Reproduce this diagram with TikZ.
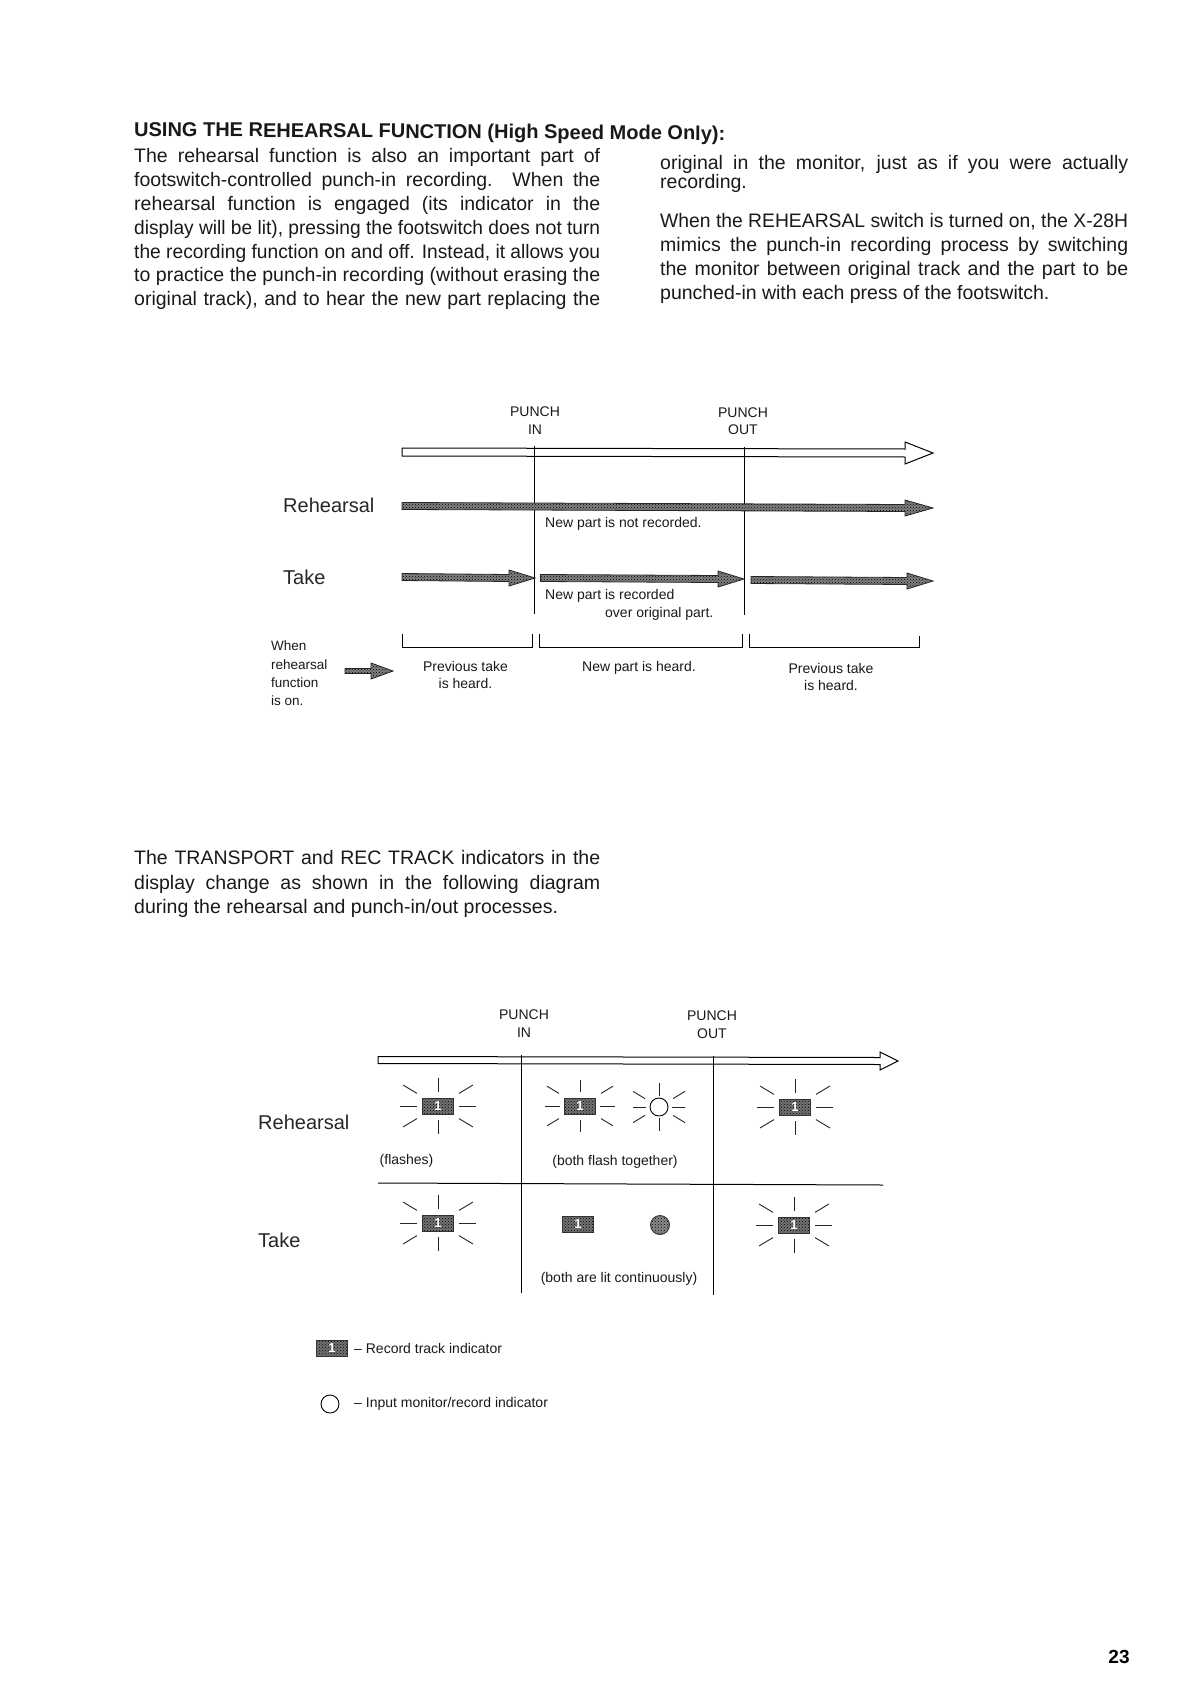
\documentclass[tikz,border=0pt]{standalone}
\usepackage{fontspec}
\usepackage{graphicx}
\setmainfont{Liberation Sans}
\usetikzlibrary{calc,patterns}

\newcommand{\jline}[1]{\makebox[468pt][s]{#1}\\}
\newcommand{\tline}[1]{\resizebox{468pt}{\height}{#1}\\}
\newcommand{\jlinel}[1]{\makebox[466pt][s]{#1}\\}
\newcommand{\tlinel}[1]{\resizebox{466pt}{\height}{#1}\\}

% body half, head half, head length, style, from, to
\newcommand{\fatarrow}[6]{%
\draw[#4] (#5) ++(0,-#1) -- ($(#6)+(-#3,-#1)$) -- ($(#6)+(-#3,-#2)$) -- (#6) -- ($(#6)+(-#3,#2)$) -- ($(#6)+(-#3,#1)$) -- ($(#5)+(0,#1)$) -- cycle;
}

% rays: node, inner and outer reach on the horizontal, vertical and slanted lines
\newcommand{\flashrays}[7]{%
\foreach \xa/\ya/\xb/\yb in {-#2/0/-#3/0,#2/0/#3/0,0/-#4/0/-#5,0/#4/0/#5}{
\draw[rayline] ($(#1)+(\xa,\ya)$) -- ($(#1)+(\xb,\yb)$);
}
\foreach \sx/\sy in {-1/-1,1/-1,-1/1,1/1}{
\draw[rayline] ($(#1)+({\sx*#6},{\sy*#6*.6})$) -- ($(#1)+({\sx*#7},{\sy*#7*.6})$);
}
}
\newcommand{\boxrays}[1]{\flashrays{#1}{21}{38}{14}{28}{21}{35}}
\newcommand{\lamprays}[1]{\flashrays{#1}{13}{26}{11}{24}{14}{26}}

\tikzset{
  bodytext/.style={font=\fontsize{19.5}{23.8}\selectfont,align=left,inner sep=0pt,anchor=north west,text=black!90},
  smalltext/.style={font=\fontsize{14}{17.5}\selectfont,inner sep=0pt,text=black!90},
  rowlabel/.style={font=\fontsize{20}{24}\selectfont,inner sep=0pt,anchor=west,text=black!85},
  openarrow/.style={draw=black,line width=1pt,fill=white},
  greyarrow/.style={draw=black!85,line width=.8pt,preaction={fill=black!50},pattern=crosshatch dots,pattern color=black},
  rule/.style={draw=black,line width=1pt},
  rayline/.style={draw=black!85,line width=.9pt},
  trackbox/.style={draw=black!80,preaction={fill=black!55},pattern=crosshatch dots,pattern color=black,minimum width=31pt,minimum height=16pt,inner sep=0pt,text=white,font=\bfseries\fontsize{13}{13}\selectfont},
  lampoff/.style={circle,draw=black,line width=.9pt,fill=white,minimum size=18pt,inner sep=0pt},
  lampon/.style={circle,draw=black!80,line width=.9pt,preaction={fill=black!45},pattern=crosshatch dots,pattern color=black,minimum size=19pt,inner sep=0pt},
}

\begin{document}
\begin{tikzpicture}[x=1pt,y=-1pt]
\useasboundingbox (0,0) rectangle (1191,1685);

% text on top of the page
\node[font=\bfseries\fontsize{20}{23}\selectfont,inner sep=0pt,anchor=west,rotate=-.4,text=black!90] (heading) at (134,131) {USING THE REHEARSAL FUNCTION (High Speed Mode Only):};
\node[bodytext] (leftcol) at (134,148.5) {%
\jlinel{The rehearsal function is also an important part of}
\jlinel{footswitch-controlled punch-in recording. When the}
\jlinel{rehearsal function is engaged (its indicator in the}
\tlinel{display will be lit), pressing the footswitch does not turn}
\tlinel{the recording function on and off. Instead, it allows you}
\tlinel{to practice the punch-in recording (without erasing the}
\jlinel{original track), and to hear the new part replacing the}};
\node[bodytext,font=\fontsize{19.5}{19.5}\selectfont] (rightcola) at (660,155) {%
\jline{original in the monitor, just as if you were actually}
recording.};
\node[bodytext,font=\fontsize{19.5}{24}\selectfont] (rightcolb) at (660,213) {%
\tline{When the REHEARSAL switch is turned on, the X-28H}
\jline{mimics the punch-in recording process by switching}
\jline{the monitor between original track and the part to be}
punched-in with each press of the footswitch.};
\node[bodytext,font=\fontsize{19.5}{24.7}\selectfont] (middletext) at (134,850) {%
\jlinel{The TRANSPORT and REC TRACK indicators in the}
\jlinel{display change as shown in the following diagram}
during the rehearsal and punch-in/out processes.};
\node[font=\bfseries\fontsize{19}{23}\selectfont,inner sep=0pt] (pagenum) at (1119,1657) {23};

% first diagram
\coordinate (topa) at (402,452);
\coordinate (topb) at (933,453);
\coordinate (rehb) at (933,508);
\coordinate (reha) at (402,506);
\coordinate (ina) at (534.5,446);
\coordinate (inb) at (534.5,614);
\coordinate (outa) at (744,447);
\coordinate (outb) at (744,615);

\node[smalltext,align=center] (punchin) at (535,420.5) {PUNCH\\IN};
\node[smalltext,align=center] (punchout) at (743,421) {PUNCH\\OUT};
\fatarrow{4}{11}{28}{openarrow}{topa}{topb}
\draw[rule] (ina) -- (inb);
\draw[rule] (outa) -- (outb);
\fatarrow{3.5}{8}{28}{greyarrow}{reha}{rehb}

\coordinate (takea) at (402,577);
\coordinate (takeb) at (535,578);
\coordinate (takec) at (540.5,578);
\coordinate (taked) at (744,579);
\coordinate (takee) at (751,580);
\coordinate (takef) at (933,581);
\fatarrow{3.5}{8}{26}{greyarrow}{takea}{takeb}
\fatarrow{3.5}{8}{26}{greyarrow}{takec}{taked}
\fatarrow{3.5}{8}{26}{greyarrow}{takee}{takef}

\node[rowlabel] (rehearsal) at (283,505) {Rehearsal};
\node[rowlabel] (take) at (283,577) {Take};
\node[smalltext,anchor=west] (notrec) at (545,524) {New part is not recorded.};
\node[smalltext,anchor=west] (rec) at (545,595.5) {New part is recorded};
\node[smalltext,anchor=west] (over) at (605,614) {over original part.};

\coordinate (brakl) at (402,634);
\coordinate (brakr) at (532,634);
\coordinate (brbkl) at (539,634);
\coordinate (brbkr) at (742,634);
\coordinate (brckl) at (749,634);
\coordinate (brckr) at (919.5,636);
\draw[rule] (brakl) -- ++(0,13) -| (brakr);
\draw[rule] (brbkl) -- ++(0,13) -| (brbkr);
\draw[rule] (brckl) -- ++(0,13) -| (brckr);

\node[smalltext,align=left,anchor=north west,font=\fontsize{13.5}{18.3}\selectfont] (whenon) at (271,641) {When\\rehearsal\\function\\is on.};
\coordinate (keya) at (345,671);
\coordinate (keyb) at (393,671);
\fatarrow{2.5}{8}{22}{greyarrow}{keya}{keyb}
\node[smalltext,align=center] (heardone) at (465.5,675) {Previous take\\is heard.};
\node[smalltext] (heardtwo) at (639,668) {New part is heard.};
\node[smalltext,align=center] (heardthree) at (831,677) {Previous take\\is heard.};

% second diagram
\coordinate (seca) at (378,1060);
\coordinate (secb) at (898,1061);
\coordinate (secina) at (521,1055);
\coordinate (secinb) at (521,1293);
\coordinate (secouta) at (713,1056);
\coordinate (secoutb) at (713,1295);
\coordinate (rowa) at (378,1183);
\coordinate (rowb) at (883,1185);

\node[smalltext,align=center] (secpunchin) at (524,1023.5) {PUNCH\\IN};
\node[smalltext,align=center] (secpunchout) at (712,1024.5) {PUNCH\\OUT};
\fatarrow{3.5}{9}{18}{openarrow}{seca}{secb}
\draw[rule] (secina) -- (secinb);
\draw[rule] (secouta) -- (secoutb);
\draw[rule] (rowa) -- (rowb);

\node[rowlabel] (secrehearsal) at (258,1122) {Rehearsal};
\node[rowlabel] (sectake) at (258,1240) {Take};

\node[trackbox] (trackra) at (438,1106) {1};
\node[trackbox] (trackrb) at (580,1106) {1};
\node[lampoff] (lampr) at (659,1107) {};
\node[trackbox] (trackrc) at (795,1107) {1};
\node[trackbox] (trackta) at (438,1223) {1};
\node[trackbox] (tracktb) at (578,1224) {1};
\node[lampon] (lampt) at (660,1225) {};
\node[trackbox] (tracktc) at (794,1225) {1};

\boxrays{trackra}
\flashrays{trackrb}{20}{35}{14}{26}{21}{33}
\lamprays{lampr}
\boxrays{trackrc}
\boxrays{trackta}
\boxrays{tracktc}

\node[smalltext,anchor=west] (flashes) at (379.5,1161) {(flashes)};
\node[smalltext] (together) at (615,1162) {(both flash together)};
\node[smalltext] (continuous) at (619,1279) {(both are lit continuously)};

% key below the second diagram
\node[trackbox] (keybox) at (332,1348) {1};
\node[smalltext,anchor=west] (keyboxtext) at (354,1348) {-- Record track indicator};
\node[lampoff] (keylamp) at (330,1404) {};
\node[smalltext,anchor=west] (keylamptext) at (354,1404) {-- Input monitor/record indicator};

\end{tikzpicture}
\end{document}
